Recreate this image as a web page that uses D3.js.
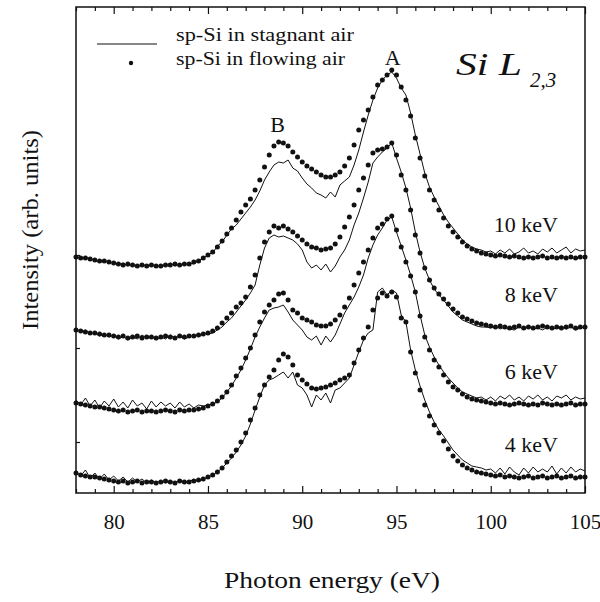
<!DOCTYPE html>
<html>
<head>
<meta charset="utf-8">
<script src="https://cdn.jsdelivr.net/npm/d3@7"></script>
<style>
  body { margin: 0; background: #fff; }
  svg { display: block; }
  svg text { fill: #111; }
</style>
</head>
<body>
<div id="chart"></div>
<script>
// energy grid of the spectra, eV
var eStart = 78, eStep = 0.25
var energy = d3.range(109).map(function(i) { return eStart + i * eStep })

// intensities (arb. units, curves already offset)
var flowing10 = [230,229,229,228, 227,226,226,225, 224,223,222,223, 222,221,222,221, 222,221,221,222, 222,223,222,223, 223,225,226,229, 232,235,240,246, 253,259,267,275, 282,288,297,307, 320,332,341,345, 344,341,335,330, 325,321,318,315, 312,310,310,312, 315,321,329,342, 357,367,377,390, 402,407,412,417, 412,400,387,371, 349,329,311,297, 287,277,269,261, 255,250,245,241, 238,236,234,233, 232,231,232,231, 230,231,230,229, 230,229,230,231, 229,230,229,230, 229,230,229,230, 230]
var stagnant10 = [231,228,230,227, 228,225,227,224, 225,222,224,221, 223,220,223,221, 223,220,222,221, 224,221,223,222, 224,223,227,228, 233,234,241,245, 252,258,262,268, 274,280,287,296, 307,315,322,325, 324,327,319,316, 309,303,299,294, 292,289,295,290, 302,306,310,322, 337,355,372,387, 399,407,412,415, 409,399,392,374, 352,333,314,300, 290,281,272,265, 259,253,247,243, 240,238,237,235, 236,233,237,234, 238,233,235,239, 234,236,233,238, 235,239,234,237, 240,234,238,236, 237]
var flowing8 = [157,156,155,154, 154,153,152,152, 151,150,151,149, 150,151,149,150, 150,149,150,151, 150,149,151,150, 151,151,152,153, 154,156,159,164, 169,174,180,184, 190,200,212,229, 245,255,261,259, 261,258,255,251, 247,243,240,239, 237,238,239,243, 250,260,270,282, 297,309,322,334, 337,338,340,344, 332,312,297,277, 252,234,219,207, 199,193,188,183, 178,174,170,168, 166,164,163,162, 161,160,161,160, 159,160,161,159, 160,159,160,161, 160,159,160,159, 160,161,159,160, 160]
var stagnant8 = [158,155,157,153, 155,151,153,150, 152,148,151,147, 150,148,152,149, 151,147,150,148, 152,149,151,148, 150,152,151,154, 153,154,157,160, 165,169,175,181, 187,194,202,222, 239,249,252,250, 251,249,247,243, 237,225,219,222, 217,223,215,221, 230,237,247,262, 274,289,305,324, 330,335,339,344, 329,315,299,279, 255,235,219,207, 198,192,187,181, 175,171,167,165, 163,161,160,160, 159,161,158,160, 158,157,160,158, 161,158,159,157, 160,158,159,161, 158,160,157,159, 160]
var flowing6 = [84,83,82,81, 80,80,79,78, 77,76,77,75, 76,77,75,76, 76,75,76,77, 76,75,77,76, 77,77,78,79, 81,83,86,90, 95,102,111,119, 129,139,152,165, 175,182,187,193, 194,187,177,174, 169,167,165,162, 161,161,163,167, 172,180,189,202, 214,225,237,249, 259,263,268,271, 257,240,225,211, 195,171,150,137, 127,120,112,105, 100,97,93,90, 88,87,86,85, 84,83,84,83, 82,83,84,83, 82,83,82,84, 83,82,83,82, 83,84,82,83, 83]
var stagnant6 = [87,82,89,81, 87,79,86,81, 88,80,85,79, 87,81,84,78, 86,80,85,81, 84,79,85,80, 83,79,82,81, 82,83,85,89, 95,101,109,117, 127,138,150,160, 169,177,179,180, 182,175,167,162, 157,150,147,151, 142,151,145,152, 163,174,182,190, 200,212,229,242, 252,259,267,270, 255,241,227,212, 195,172,152,140, 130,122,115,109, 104,99,95,93, 91,89,90,87, 90,86,91,88, 92,87,90,86, 91,88,92,87, 90,86,91,89, 92,87,90,88, 89]
var flowing4 = [14,12,11,10, 10,9,8,7, 6,5,6,4, 5,6,4,5, 5,4,5,6, 5,4,6,5, 5,6,7,8, 10,12,15,19, 25,31,37,45, 54,67,79,92, 102,110,117,127, 133,130,122,112, 107,103,99,98, 99,100,102,104, 107,109,112,124, 137,149,160,177, 189,194,191,195, 190,169,165,135, 114,97,82,71, 62,54,46,38, 31,26,22,19, 17,15,14,13, 12,11,12,10, 11,10,9,10, 11,9,10,11, 9,10,11,9, 10,11,9,10, 10]
var stagnant4 = [15,11,17,9, 14,8,13,7, 11,6,10,5, 9,5,8,4, 7,4,6,4, 6,4,7,5, 6,7,6,8, 10,12,15,19, 24,29,35,42, 51,63,77,90, 102,107,109,112, 115,109,115,102, 99,92,80,92, 87,94,84,97, 99,104,109,122, 135,147,154,157, 195,199,192,197, 194,172,165,137, 117,101,87,75, 65,57,51,44, 37,32,27,24, 21,20,19,17, 18,14,19,13, 20,15,12,19, 14,20,15,18, 15,21,13,19, 14,20,15,18, 16]

var keVLabels = ["4 keV", "6 keV", "8 keV", "10 keV"]
var xTicks = [80, 85, 90, 95, 100, 105]
var xMinor = [78, 79, 81, 82, 83, 84, 86, 87, 88, 89, 91, 92, 93, 94, 96, 97, 98, 99, 101, 102, 103, 104]
var yTicks = [45, 139, 232]
var legendNames = ["sp-Si in stagnant air", "sp-Si in flowing air"]

var spectra = [
  { label: keVLabels[0], stagnant: stagnant4, flowing: flowing4 },
  { label: keVLabels[1], stagnant: stagnant6, flowing: flowing6 },
  { label: keVLabels[2], stagnant: stagnant8, flowing: flowing8 },
  { label: keVLabels[3], stagnant: stagnant10, flowing: flowing10 }
]

var serif = "'Times New Roman', Times, Tinos, 'Nimbus Roman', 'Liberation Serif', 'DejaVu Serif Condensed', 'DejaVu Serif', serif"
var w = 600, h = 602
var svg = d3.select("#chart").append("svg")
  .attr("width", w)
  .attr("height", h)
  .style("font-family", serif)

var x = d3.scaleLinear().domain([78, 105]).range([76, 585])
var y = d3.scaleLinear().domain([-6, 480]).range([493, 7])

var line = d3.line()
  .x(function(d, i) { return x(energy[i]) })
  .y(function(d) { return y(d) })

// spectra
spectra.forEach(function(s) {
  svg.append("path")
    .attr("d", line(s.stagnant))
    .attr("fill", "none")
    .attr("stroke", "#111")
    .attr("stroke-width", 1)

  svg.append("g").selectAll("circle")
    .data(s.flowing)
    .join("circle")
    .attr("cx", function(d, i) { return x(energy[i]) })
    .attr("cy", function(d) { return y(d) })
    .attr("r", 2.5)
    .attr("fill", "#111")

  svg.append("text")
    .attr("x", 558)
    .attr("y", y(s.flowing[s.flowing.length - 1]) - 25)
    .attr("text-anchor", "end")
    .style("font-family", serif)
    .attr("font-size", 22)
    .text(s.label)
})

// axes: ticks pointing inward
function styleAxis(g) {
  g.attr("font-family", null)
  g.select(".domain").remove()
  g.selectAll("line").attr("stroke", "#111").attr("stroke-width", 1.2)
}

svg.append("g")
  .attr("transform", "translate(0,493)")
  .call(d3.axisBottom(x).tickValues(xTicks).tickSizeInner(-7).tickSizeOuter(0).tickPadding(21).tickFormat(d3.format("d")))
  .call(styleAxis)
  .call(function(g) {
    g.selectAll("text")
      .attr("font-size", 21)
      .style("font-family", serif)
      .attr("fill", "#111")
  })

svg.append("g")
  .attr("transform", "translate(0,493)")
  .call(d3.axisBottom(x).tickValues(xMinor).tickSizeInner(-4).tickSizeOuter(0).tickFormat(""))
  .call(styleAxis)

svg.append("g")
  .attr("transform", "translate(0,7)")
  .call(d3.axisTop(x).tickValues(xTicks).tickSizeInner(-7).tickSizeOuter(0).tickFormat(""))
  .call(styleAxis)

svg.append("g")
  .attr("transform", "translate(0,7)")
  .call(d3.axisTop(x).tickValues(xMinor).tickSizeInner(-4).tickSizeOuter(0).tickFormat(""))
  .call(styleAxis)

svg.append("g")
  .attr("transform", "translate(76,0)")
  .call(d3.axisLeft(y).tickValues(yTicks).tickSizeInner(-4).tickSizeOuter(0).tickFormat(""))
  .call(styleAxis)

// frame
svg.append("rect")
  .attr("x", x(78))
  .attr("y", y(480))
  .attr("width", x(105) - x(78))
  .attr("height", y(-6) - y(480))
  .attr("fill", "none")
  .attr("stroke", "#111")
  .attr("stroke-width", 1.5)

// axis titles
svg.append("text")
  .attr("x", 224)
  .attr("y", 588)
  .style("font-family", serif)
  .attr("font-size", 24)
  .attr("textLength", 216)
  .attr("lengthAdjust", "spacingAndGlyphs")
  .text("Photon energy (eV)")

svg.append("text")
  .attr("transform", "translate(38,330) rotate(-90)")
  .style("font-family", serif)
  .attr("font-size", 24)
  .attr("textLength", 200)
  .attr("lengthAdjust", "spacingAndGlyphs")
  .text("Intensity (arb. units)")

// legend
svg.append("line")
  .attr("x1", 97).attr("x2", 157)
  .attr("y1", 44).attr("y2", 44)
  .attr("stroke", "#111")
  .attr("stroke-width", 1)
svg.append("circle")
  .attr("cx", 131).attr("cy", 63)
  .attr("r", 2.2)
  .attr("fill", "#111")
svg.selectAll(".leg")
  .data(legendNames)
  .join("text")
  .attr("class", "leg")
  .attr("x", 176)
  .attr("y", function(d, i) { return 41 + i * 24 })
  .style("font-family", serif)
  .attr("font-size", 19)
  .attr("textLength", function(d, i) { return i === 0 ? 178 : 169 })
  .attr("lengthAdjust", "spacingAndGlyphs")
  .text(function(d) { return d })

// peak labels
svg.append("text")
  .attr("x", x(94.8))
  .attr("y", y(d3.max(flowing10)) - 5)
  .attr("text-anchor", "middle")
  .style("font-family", serif)
  .attr("font-size", 22)
  .text("A")
svg.append("text")
  .attr("x", x(88.7))
  .attr("y", y(d3.max(flowing10.slice(40, 50))) - 10)
  .attr("text-anchor", "middle")
  .style("font-family", serif)
  .attr("font-size", 22)
  .text("B")

// edge label
svg.append("text")
  .attr("x", 456)
  .attr("y", 75)
  .style("font-family", serif)
  .attr("font-size", 32)
  .attr("font-style", "italic")
  .attr("textLength", 66)
  .attr("lengthAdjust", "spacingAndGlyphs")
  .text("Si L")
svg.append("text")
  .attr("x", 530)
  .attr("y", 87)
  .style("font-family", serif)
  .attr("font-size", 21)
  .attr("font-style", "italic")
  .text("2,3")
</script>
</body>
</html>
